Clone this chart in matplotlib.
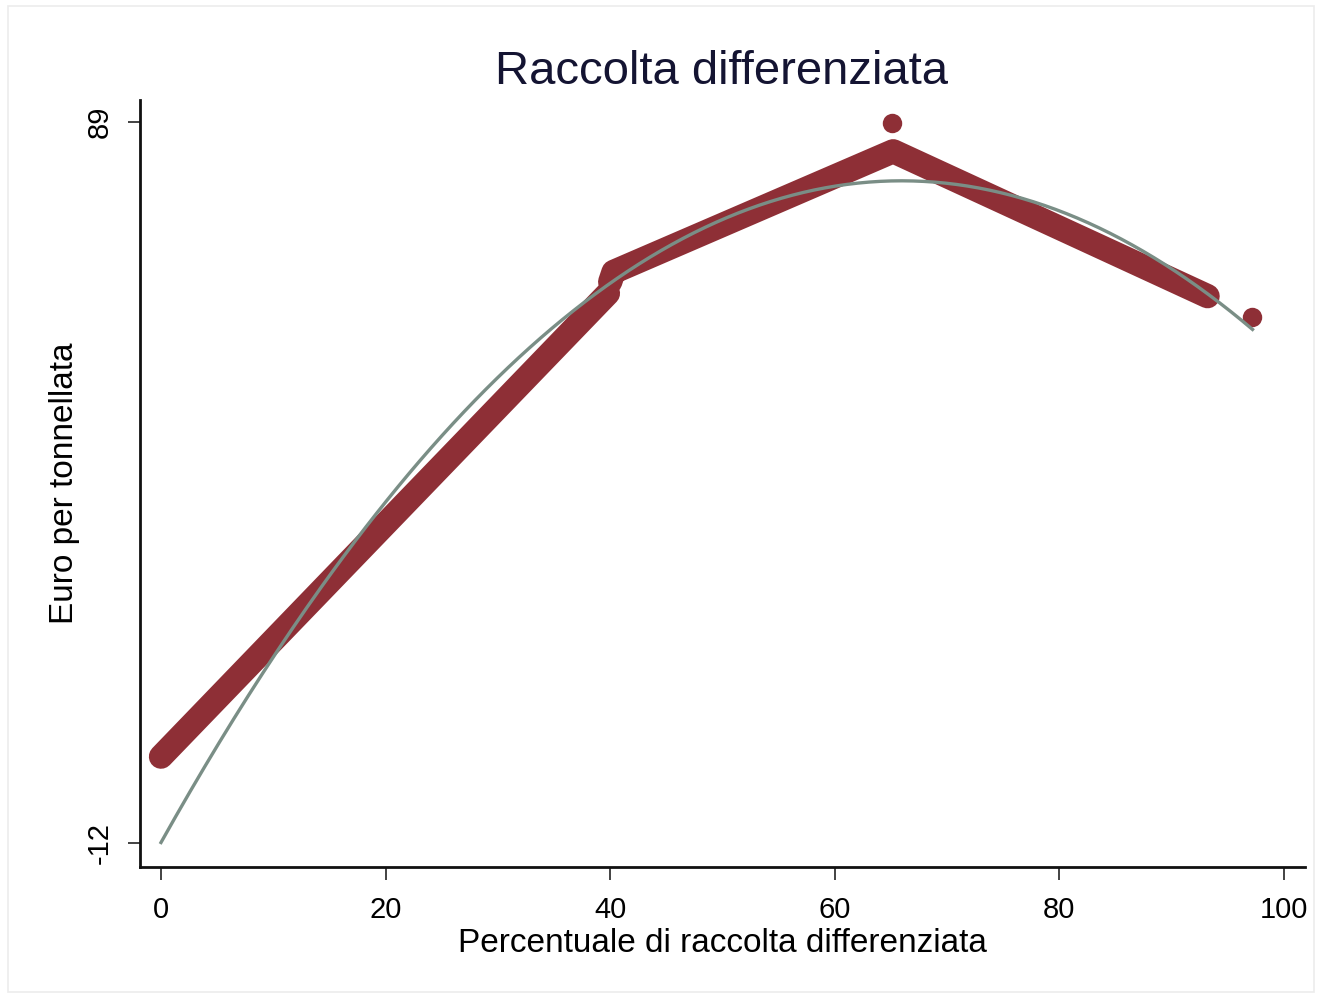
import numpy as np
import matplotlib
matplotlib.use("Agg")
import matplotlib.pyplot as plt
from matplotlib.patches import Rectangle

plt.rcParams['font.family'] = ['Liberation Sans', 'DejaVu Sans']

# Data
title = "Raccolta differenziata"
xlabel = "Percentuale di raccolta differenziata"
ylabel = "Euro per tonnellata"

# dense scatter band (piecewise)
lower_x = [0.0, 39.8]
lower_y = [0.1, 65.0]
upper_x = [40.0, 40.3, 65.2, 93.2]
upper_y = [66.6, 68.0, 84.9, 64.6]
# isolated points
out_x = [0.0, 65.1, 97.15]
out_y = [0.1, 88.9, 61.7]
# quadratic fit read points
fit_x = [0.0, 40.0, 68.0, 97.2]
fit_y = [-11.9, 66.3, 80.8, 59.9]

xticks = [0, 20, 40, 60, 80, 100]
yticks = [-12, 89]

band_color = '#8E2F36'
fit_color = '#7A8E86'

fig = plt.figure(figsize=(13.22, 9.96), dpi=100)
fig.patch.set_facecolor('white')
fig.patches.append(Rectangle((0.006, 0.004), 0.988, 0.99, transform=fig.transFigure,
                             fill=False, edgecolor='#ececec', linewidth=1.2))

ax = fig.add_axes([0.1059, 0.1295, 0.9871 - 0.1059, 0.8996 - 0.1295])

lw = 17.5
ax.plot(lower_x, lower_y, color=band_color, lw=lw, solid_capstyle='round',
        solid_joinstyle='round', zorder=2)
ax.plot(upper_x, upper_y, color=band_color, lw=lw, solid_capstyle='round',
        solid_joinstyle='round', zorder=2)
ax.plot(out_x, out_y, 'o', color=band_color, ms=14, mew=0, zorder=2)

coef = np.polyfit(fit_x, fit_y, 2)
xx = np.linspace(fit_x[0], fit_x[-1], 300)
ax.plot(xx, np.polyval(coef, xx), color=fit_color, lw=2.4, zorder=3)

ax.set_xlim(-1.87, 101.87)
ax.set_ylim(-15.36, 92.08)
ax.set_xticks(xticks)
ax.set_yticks(yticks)
ax.set_xticklabels([str(t) for t in xticks], fontsize=21)
ax.set_yticklabels([str(t) for t in yticks], fontsize=21, rotation=90, va='center')

for s in ['top', 'right']:
    ax.spines[s].set_visible(False)
for s in ['left', 'bottom']:
    ax.spines[s].set_linewidth(2.0)
    ax.spines[s].set_color('#111111')
ax.tick_params(axis='x', length=9, width=1.2, color='#222222', pad=12)
ax.tick_params(axis='y', length=9, width=1.2, color='#222222', pad=10)

ax.set_xlabel(xlabel, fontsize=24, labelpad=3)
ax.set_ylabel(ylabel, fontsize=24, labelpad=4)
fig.text(0.5455, 0.928, title, fontsize=34, color='#141432', ha='center', va='center')

fig.savefig('out.png', dpi=100, facecolor='white')
